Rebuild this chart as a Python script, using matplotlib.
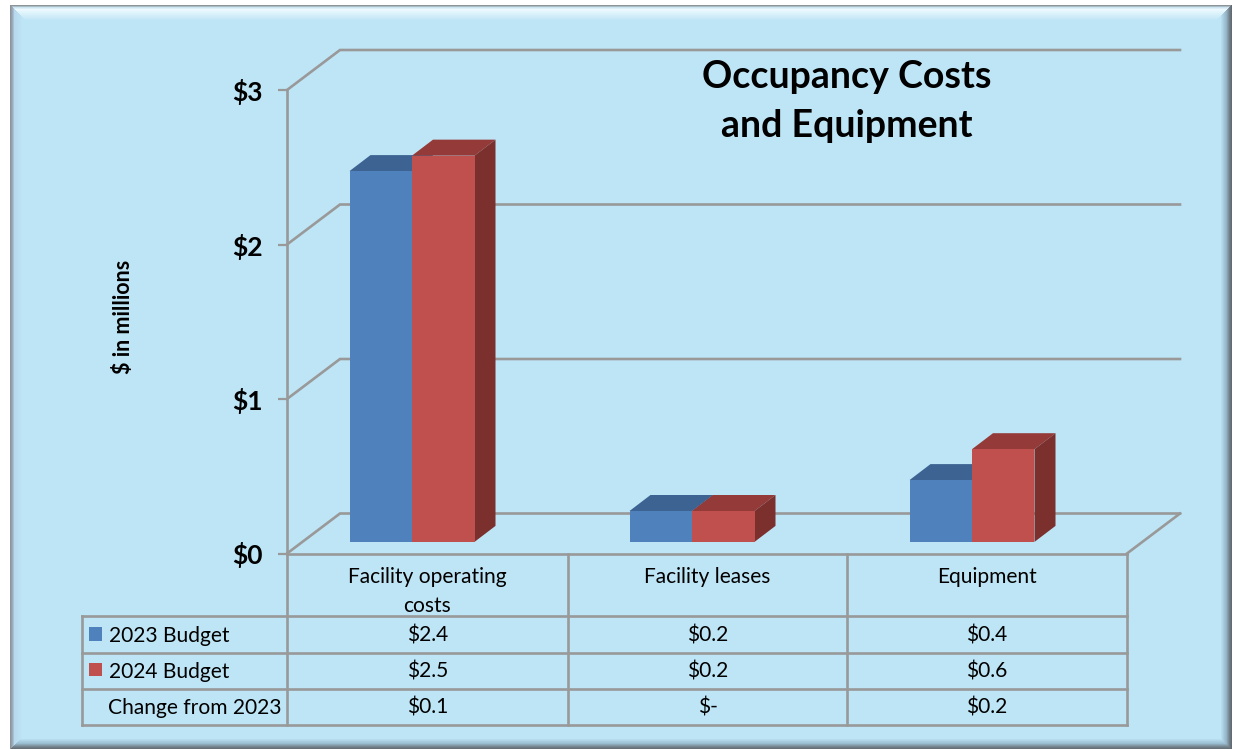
import numpy as np
import matplotlib
matplotlib.use('Agg')
import matplotlib.pyplot as plt
from matplotlib.patches import Polygon, Rectangle

categories = ['Facility operating\ncosts', 'Facility leases', 'Equipment']
budget_2023 = [2.4, 0.2, 0.4]
budget_2024 = [2.5, 0.2, 0.6]
labels_2023 = ['$2.4', '$0.2', '$0.4']
labels_2024 = ['$2.5', '$0.2', '$0.6']
labels_change = ['$0.1', '$-', '$0.2']
y_ticks = [0, 1, 2, 3]
y_tick_labels = ['$0', '$1', '$2', '$3']

W, H = 1233, 750
BLUE = '#4F81BD'
BLUE_TOP = '#3C6391'
BLUE_SIDE = '#385D8A'
RED = '#C0504D'
RED_TOP = '#943A38'
RED_SIDE = '#7B302E'
GREY = '#999999'
FILL = np.array([190, 229, 246]) / 255

plt.rcParams['font.family'] = ['Lato', 'DejaVu Sans']


def panel_image():
    # bevelled panel, each edge gets its own gradient and they meet on the mitre
    img = np.ones((H, W, 3))
    x0, x1, y0, y1 = 10, 1231, 5, 748
    yy, xx = np.mgrid[0:H, 0:W]
    d = np.stack([xx - x0, x1 - xx, yy - y0, y1 - yy])
    side = d.argmin(axis=0)
    dist = d.min(axis=0)
    ramps = [
        ([0, 2.5, 4, 12], [[.55, .58, .60], [.62, .70, .78], [.72, .85, .93], FILL]),
        ([0, 2, 5, 11], [[.38, .42, .45], [.45, .50, .54], [.58, .70, .78], FILL]),
        ([0, 2, 4, 12, 15], [[.55, .58, .60], [.80, .90, .95], [.93, .98, 1.0], [.80, .92, .97], FILL]),
        ([0, 2, 5, 10], [[.40, .44, .47], [.47, .53, .57], [.60, .74, .82], FILL]),
    ]
    for s, (stops, cols) in enumerate(ramps):
        cols = np.array(cols)
        for c in range(3):
            vals = np.interp(dist, stops, cols[:, c])
            img[..., c] = np.where(side == s, vals, img[..., c])
    img[dist < 0] = 1
    return img


fig = plt.figure(figsize=(W / 100, H / 100), dpi=100)

# pixel space layer for the panel and the data table
bg = fig.add_axes([0, 0, 1, 1])
bg.set_xlim(0, W)
bg.set_ylim(H, 0)
bg.axis('off')
bg.imshow(panel_image(), extent=(0, W, H, 0), aspect='auto', zorder=0, interpolation='bilinear')

# front plane of the 3D chart, 0-3 on both scales
front_left, front_right = 287, 1127
front_bottom, front_top = 553.5, 90
ax = fig.add_axes([front_left / W, 1 - front_bottom / H,
                   (front_right - front_left) / W, (front_bottom - front_top) / H])
ax.set_xlim(0, len(categories))
ax.set_ylim(0, 3)
ax.patch.set_visible(False)

px_x = len(categories) / (front_right - front_left)
px_y = 3 / (front_bottom - front_top)

# walls
wall_dx, wall_dy = 53 * px_x, 40 * px_y
for t in y_ticks:
    ax.plot([0, wall_dx, len(categories) + wall_dx], [t, t + wall_dy, t + wall_dy],
            color=GREY, lw=1.9, clip_on=False, zorder=1, solid_joinstyle='miter')
ax.plot([len(categories), len(categories) + wall_dx], [0, wall_dy],
        color=GREY, lw=1.9, clip_on=False, zorder=1)

# bars
bar_width = 62.5 * px_x
bar_start = 62.5 * px_x
base = 11.6 * px_y
depth_x, depth_y = 21 * px_x, 16 * px_y


def draw_bars(values, offset, front, top, side, z):
    xs = [i + bar_start + offset for i in range(len(values))]
    ax.bar(xs, values, width=bar_width, bottom=base, align='edge', color=front,
           edgecolor='none', zorder=z + 0.2)
    for x, v in zip(xs, values):
        h = base + v
        ax.add_patch(Polygon([(x, h), (x + depth_x, h + depth_y),
                              (x + bar_width + depth_x, h + depth_y), (x + bar_width, h)],
                             facecolor=top, edgecolor='none', zorder=z, clip_on=False))
        ax.add_patch(Polygon([(x + bar_width, base), (x + bar_width + depth_x, base + depth_y),
                              (x + bar_width + depth_x, h + depth_y), (x + bar_width, h)],
                             facecolor=side, edgecolor='none', zorder=z, clip_on=False))


draw_bars(budget_2023, 0, BLUE, BLUE_TOP, BLUE_SIDE, 2)
draw_bars(budget_2024, bar_width, RED, RED_TOP, RED_SIDE, 3)

ax.set_xticks([])
ax.set_yticks(y_ticks)
ax.set_yticklabels(y_tick_labels, fontsize=19, fontweight='bold', color='black')
ax.tick_params(axis='y', length=6.5, width=1.6, color=GREY, pad=11)
ax.spines['top'].set_visible(False)
ax.spines['right'].set_visible(False)
for s in ['left', 'bottom']:
    ax.spines[s].set_color(GREY)
    ax.spines[s].set_linewidth(1.9)

fig.text(124 / W, 1 - 317 / H, '$ in millions', rotation=90, ha='center', va='center',
         fontsize=15.5, fontweight='bold', color='black')
fig.text(847 / W, 1 - 101.5 / H, 'Occupancy Costs\nand Equipment', ha='center', va='center',
         fontsize=27, fontweight='bold', color='black', linespacing=1.56)

# data table
col_x = [82, 287, 568, 847, 1127]
row_y = [554, 616, 653, 689, 725]
for y in row_y[1:]:
    bg.plot([col_x[0], col_x[-1]], [y, y], color=GREY, lw=1.9, zorder=2, solid_capstyle='projecting')
bg.plot([col_x[0], col_x[0]], [row_y[1], row_y[-1]], color=GREY, lw=1.9, zorder=2, solid_capstyle='projecting')
for x in col_x[1:]:
    bg.plot([x, x], [row_y[0], row_y[-1]], color=GREY, lw=1.9, zorder=2, solid_capstyle='projecting')

TABLE_SIZE = 15.1
for i, name in enumerate(categories):
    cx = (col_x[i + 1] + col_x[i + 2]) / 2
    lines = name.split('\n')
    for j, line in enumerate(lines):
        bg.text(cx, 577 + j * 28.5, line, ha='center', va='center', fontsize=TABLE_SIZE, color='black')
    bg.text(cx, 635.5, labels_2023[i], ha='center', va='center', fontsize=TABLE_SIZE, color='black')
    bg.text(cx, 671.5, labels_2024[i], ha='center', va='center', fontsize=TABLE_SIZE, color='black')
    bg.text(cx, 707.5, labels_change[i], ha='center', va='center', fontsize=TABLE_SIZE, color='black')

bg.add_patch(Rectangle((89, 627), 13, 14, facecolor=BLUE, edgecolor='none', zorder=3))
bg.add_patch(Rectangle((89, 663), 13, 13, facecolor=RED, edgecolor='none', zorder=3))
bg.text(109, 635.5, '2023 Budget', ha='left', va='center', fontsize=TABLE_SIZE, color='black')
bg.text(109, 671.5, '2024 Budget', ha='left', va='center', fontsize=TABLE_SIZE, color='black')
bg.text(108, 707.5, 'Change from 2023', ha='left', va='center', fontsize=TABLE_SIZE, color='black')

fig.savefig('out.png', dpi=100)
